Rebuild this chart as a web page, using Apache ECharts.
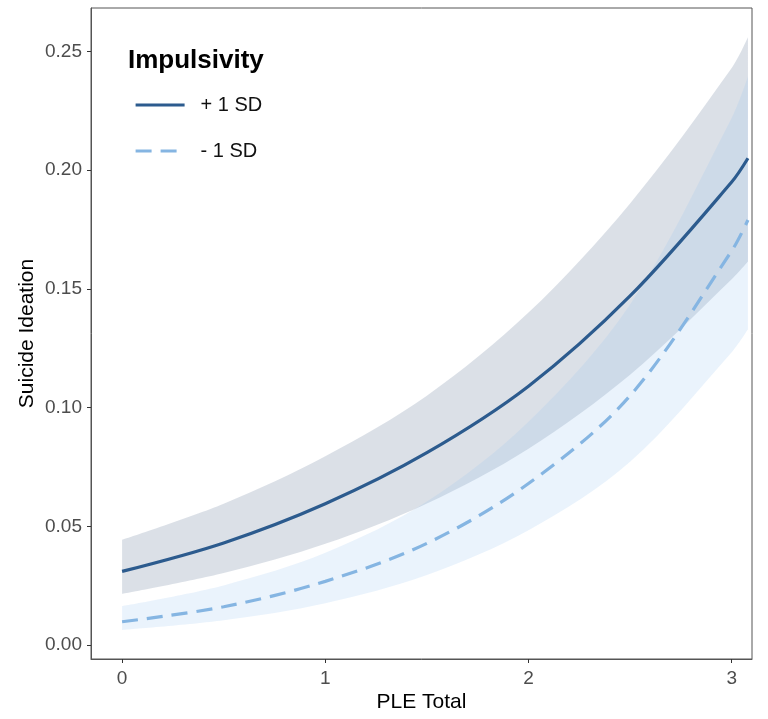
<!DOCTYPE html>
<html>
<head>
<meta charset="utf-8">
<title>Suicide Ideation by PLE Total</title>
<script src="https://cdn.jsdelivr.net/npm/echarts@6/dist/echarts.min.js"></script>
<style>
	html,body{margin:0;padding:0;background:#fff;}
	#chart{width:768px;height:719px;}
</style>
</head>
<body>
<div id="chart"></div>
<script>
// PLE Total values where the curves were read
var pleTotal = [0, 0.5, 1, 1.5, 2, 2.5, 3, 3.08];

// + 1 SD impulsivity: fitted line and ribbon
var highFit   = [0.031, 0.043, 0.0595, 0.081, 0.109, 0.147, 0.195, 0.205];
var highLower = [0.0215, 0.0303, 0.0426, 0.0596, 0.0827, 0.1138, 0.154, 0.1615];
var highUpper = [0.0443, 0.0595, 0.0795, 0.105, 0.140, 0.186, 0.243, 0.256];

// - 1 SD impulsivity: fitted line and ribbon
var lowFit   = [0.0098, 0.0161, 0.0268, 0.0428, 0.068, 0.105, 0.166, 0.179];
var lowLower = [0.0063, 0.0104, 0.0176, 0.0295, 0.0483, 0.0772, 0.1233, 0.133];
var lowUpper = [0.0164, 0.0251, 0.0388, 0.0604, 0.094, 0.1434, 0.222, 0.2395];

var xTicks = [0, 1, 2, 3];
var yTicks = [0, 0.05, 0.10, 0.15, 0.20, 0.25];

// 1/3 gives catmull-rom like curves, the default bulges between points
var SMOOTH = 0.33;

function pairs(ys){
	var out = [];
	for(var i=0; i<pleTotal.length; i++){
		out.push([pleTotal[i], ys[i]]);
	}
	return out;
}

// ribbon rows are [value, x] so the stack goes on the y value
function bandRows(ys){
	var out = [];
	for(var i=0; i<pleTotal.length; i++){
		out.push([ys[i], pleTotal[i]]);
	}
	return out;
}

function bandSeries(stack, base, top, color){
	var gap = [];
	for(var i=0; i<top.length; i++){
		gap.push(top[i] - base[i]);
	}
	return [
		{
			type:'line', stack:stack, data:bandRows(base), encode:{x:1, y:0},
			smooth:SMOOTH, symbol:'none', lineStyle:{opacity:0}, silent:true, z:1
		},
		{
			type:'line', stack:stack, data:bandRows(gap), encode:{x:1, y:0},
			smooth:SMOOTH, symbol:'none', lineStyle:{opacity:0}, silent:true, z:1,
			areaStyle:{color:color, opacity:1}
		}
	];
}

var axisColor = '#555';
var labelColor = '#4d4d4d';
var font = 'Liberation Sans, Arial, sans-serif';

var series = []
	.concat(bandSeries('hi', highLower, highUpper, 'rgba(112,132,160,0.25)'))
	.concat(bandSeries('lo', lowLower, lowUpper, 'rgba(150,195,240,0.2)'))
	.concat([
		{
			name:'+ 1 SD', type:'line', data:pairs(highFit), smooth:SMOOTH,
			symbol:'none', z:3,
			lineStyle:{color:'#2c5b8e', width:3.2},
			itemStyle:{color:'rgba(0,0,0,0)'}
		},
		{
			name:'- 1 SD', type:'line', data:pairs(lowFit), smooth:SMOOTH,
			symbol:'none', z:3,
			lineStyle:{color:'#85b5e2', width:3.2, type:[16,9]},
			itemStyle:{color:'rgba(0,0,0,0)'}
		}
	]);

var option = {
	animation:false,
	backgroundColor:'#fff',
	title:{
		text:'Impulsivity',
		left:128, top:48, padding:0,
		textStyle:{fontFamily:font, fontSize:26, fontWeight:'bold', color:'#000'}
	},
	legend:{
		data:['+ 1 SD','- 1 SD'],
		orient:'vertical',
		left:134, top:95, padding:0,
		itemWidth:49, itemHeight:20, itemGap:26,
		selectedMode:false,
		lineStyle:{width:3.2},
		textStyle:{fontFamily:font, fontSize:20, color:'#111', padding:[0,0,0,11]}
	},
	grid:{
		left:91, right:16, top:8, bottom:60,
		show:true, borderColor:axisColor, borderWidth:1, backgroundColor:'transparent'
	},
	xAxis:{
		type:'value',
		min:-0.153, max:3.10,
		name:'PLE Total',
		nameLocation:'middle',
		nameGap:33,
		nameMoveOverlap:false,
		nameTextStyle:{fontFamily:font, fontSize:21, color:'#000'},
		axisLine:{onZero:false, lineStyle:{color:axisColor, width:1}},
		axisTick:{show:true, length:4, customValues:xTicks, lineStyle:{color:'#333'}},
		axisLabel:{customValues:xTicks, margin:10, fontFamily:font, fontSize:19, color:labelColor},
		splitLine:{show:false}
	},
	yAxis:{
		type:'value',
		min:-0.0059, max:0.2683,
		name:'Suicide Ideation',
		nameLocation:'middle',
		nameGap:53,
		nameMoveOverlap:false,
		nameTextStyle:{fontFamily:font, fontSize:21, color:'#000'},
		axisLine:{onZero:false, lineStyle:{color:axisColor, width:1}},
		axisTick:{show:true, length:4, customValues:yTicks, lineStyle:{color:'#333'}},
		axisLabel:{
			customValues:yTicks, margin:9, fontFamily:font, fontSize:19, color:labelColor,
			formatter:function(v){ return v.toFixed(2); }
		},
		splitLine:{show:false}
	},
	series:series
};

var myChart = echarts.init(document.getElementById('chart'));
myChart.setOption(option);
</script>
</body>
</html>
